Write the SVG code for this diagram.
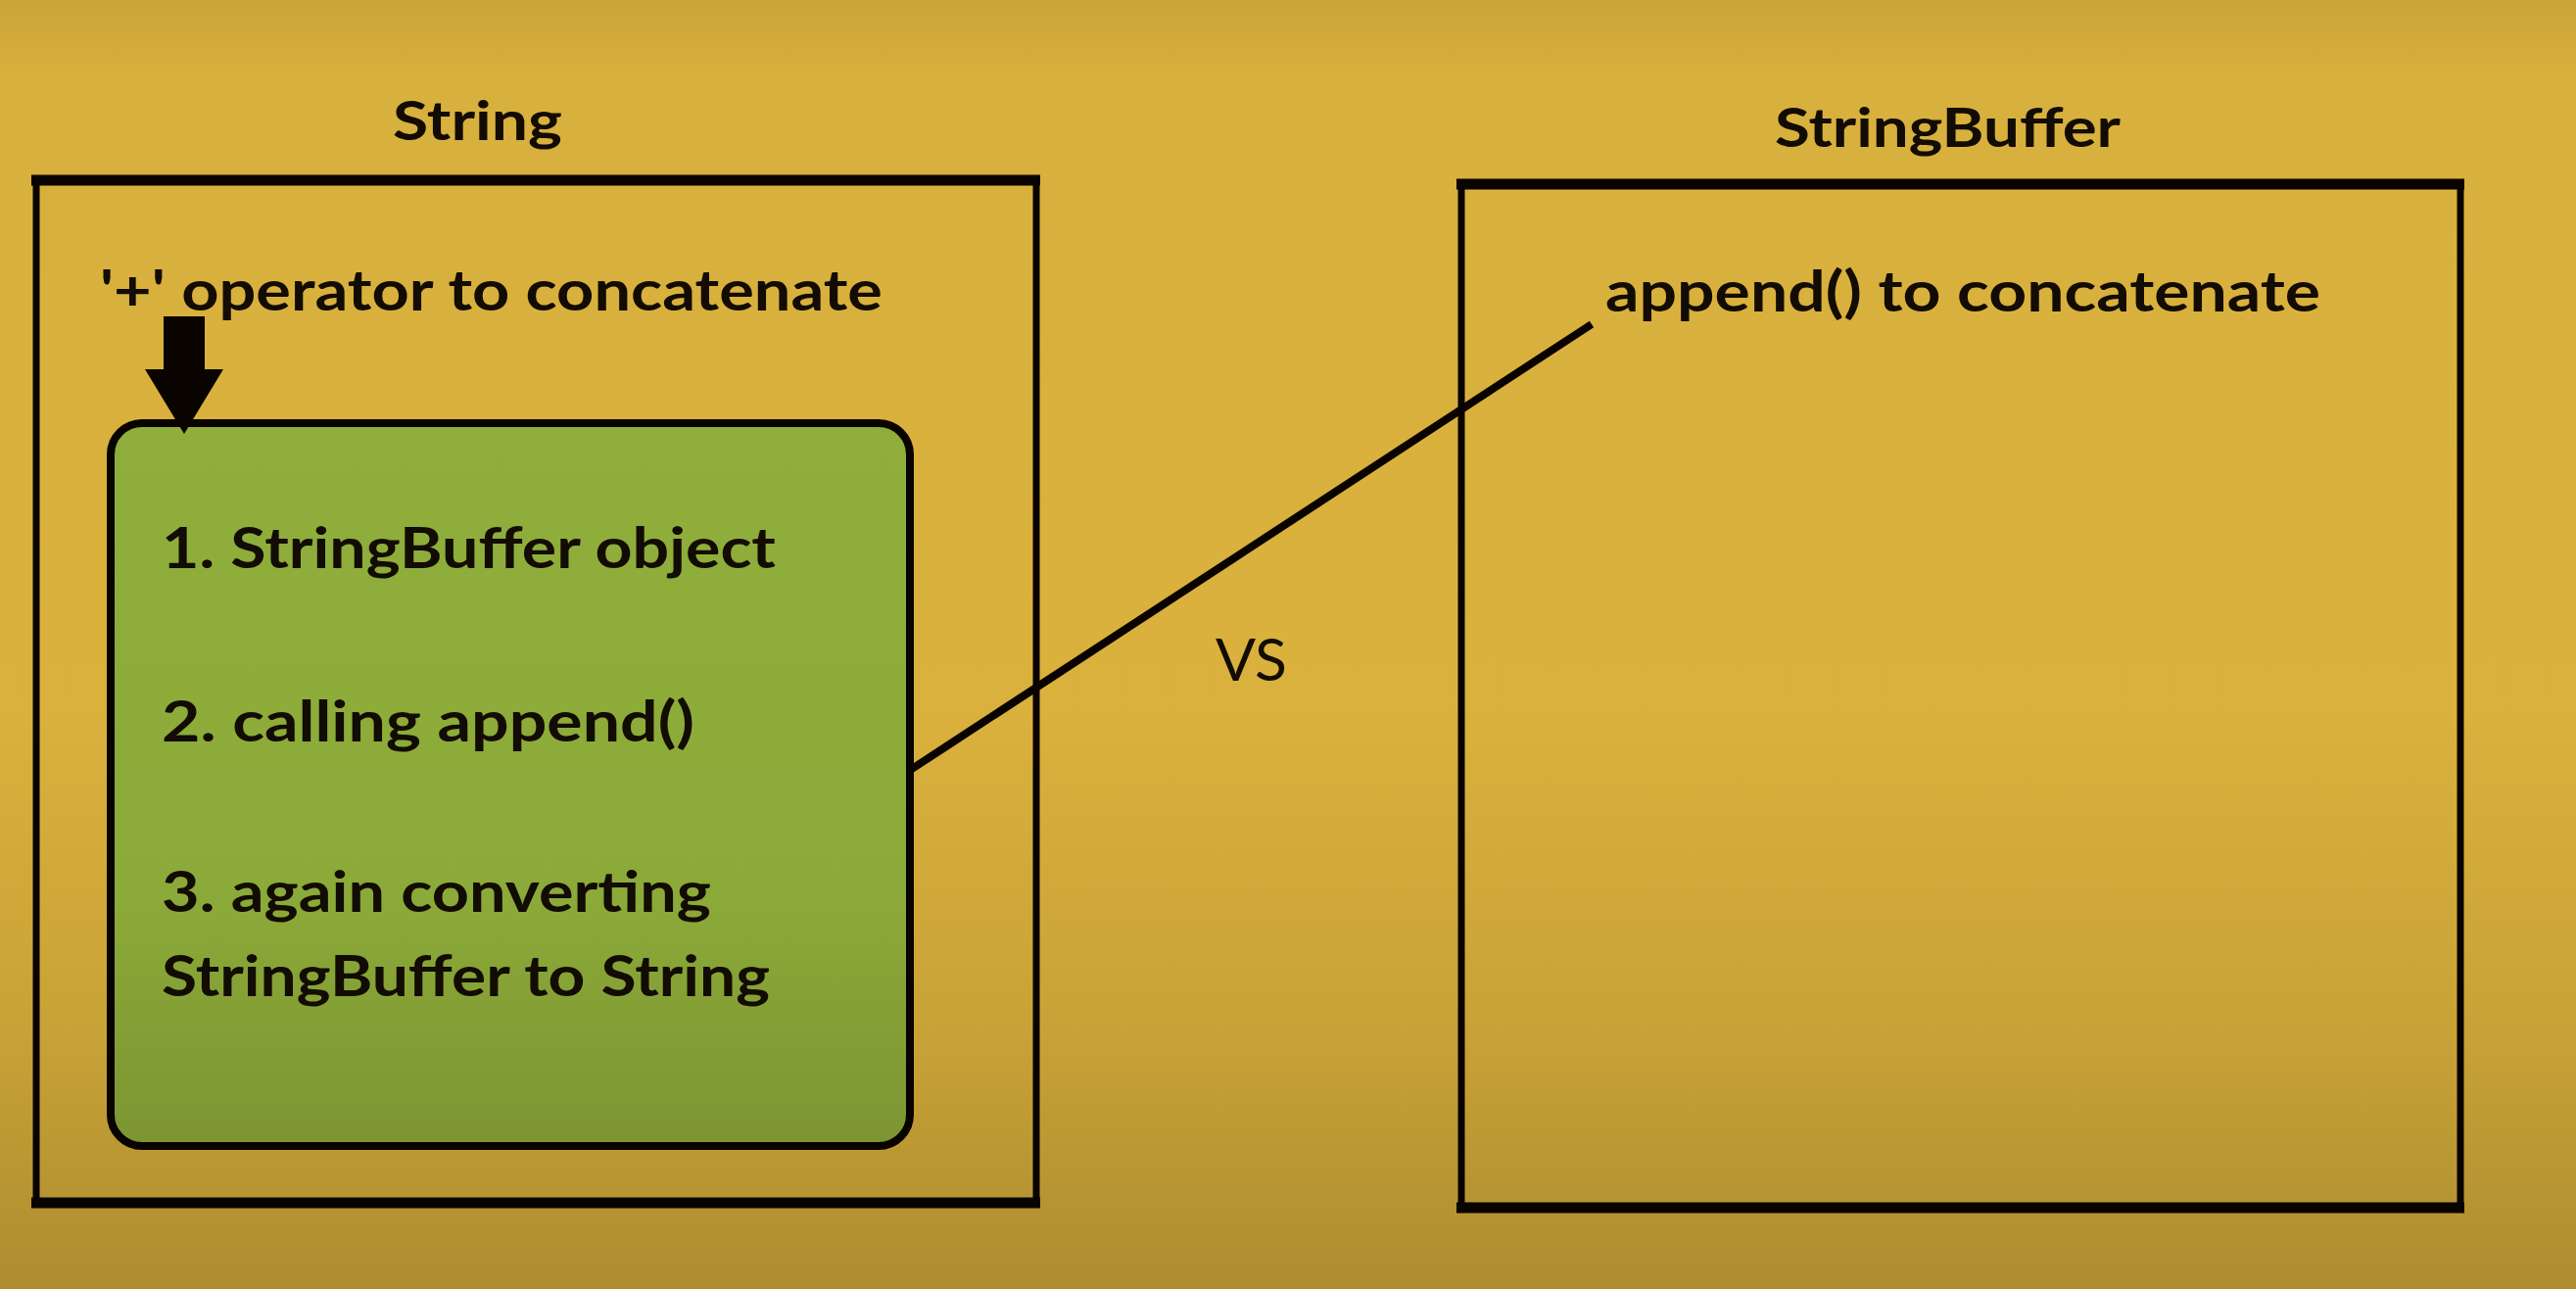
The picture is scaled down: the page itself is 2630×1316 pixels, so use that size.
<svg xmlns="http://www.w3.org/2000/svg" width="2630" height="1316" viewBox="0 0 2630 1316">
  <defs>
    <linearGradient id="bg" x1="0" y1="0" x2="0" y2="1">
      <stop offset="0" stop-color="#CBA439"/>
      <stop offset="0.06" stop-color="#D8B03D"/>
      <stop offset="0.55" stop-color="#DAB13D"/>
      <stop offset="0.8" stop-color="#C9A237"/>
      <stop offset="1" stop-color="#AD8D30"/>
    </linearGradient>
    <linearGradient id="green" x1="0" y1="0" x2="0" y2="1">
      <stop offset="0" stop-color="#8FAE3B"/>
      <stop offset="0.65" stop-color="#8CAA39"/>
      <stop offset="1" stop-color="#7C9532"/>
    </linearGradient>
  </defs>
  <style>
    .t { font-family: Lato, "Open Sans", "Liberation Sans", sans-serif; font-weight: bold; fill: #120c04; }
    .title { font-size: 55px; }
    .body { font-size: 58px; }
    .vs { font-family: Lato, "Open Sans", "Liberation Sans", sans-serif; font-weight: normal; font-size: 60px; fill: #120c04; }
    .box { fill: none; stroke: #0a0400; stroke-width: 7; }
    .edge { stroke: #0a0400; stroke-width: 11; }
    .conn { stroke: #0a0400; stroke-width: 8; fill: none; }
  </style>
  <rect x="0" y="0" width="2630" height="1316" fill="url(#bg)"/>

  <g id="string-panel">
    <text class="t title" x="401" y="143" textLength="173" lengthAdjust="spacingAndGlyphs">String</text>
    <rect class="box" x="37" y="184" width="1021" height="1044"/>
    <line class="edge" x1="32" y1="184" x2="1062" y2="184"/>
    <line class="edge" x1="32" y1="1228" x2="1062" y2="1228"/>
    <text class="t body" x="102" y="317" textLength="799" lengthAdjust="spacingAndGlyphs">'+' operator to concatenate</text>
  </g>

  <g id="steps-box">
    <rect x="113" y="432" width="816" height="738" rx="32" ry="32" fill="url(#green)" stroke="#0a0400" stroke-width="8"/>
    <text class="t body" x="165" y="580" textLength="627" lengthAdjust="spacingAndGlyphs">1. StringBuffer object</text>
    <text class="t body" x="165" y="757" textLength="544" lengthAdjust="spacingAndGlyphs">2. calling append()</text>
    <text class="t body" x="165" y="931" textLength="561" lengthAdjust="spacingAndGlyphs">3. again converting</text>
    <text class="t body" x="165" y="1017" textLength="621" lengthAdjust="spacingAndGlyphs">StringBuffer to String</text>
  </g>

  <g id="stringbuffer-panel">
    <text class="t title" x="1812" y="150" textLength="353" lengthAdjust="spacingAndGlyphs">StringBuffer</text>
    <rect class="box" x="1492" y="188" width="1020" height="1045"/>
    <line class="edge" x1="1487" y1="188" x2="2516" y2="188"/>
    <line class="edge" x1="1487" y1="1233" x2="2516" y2="1233"/>
    <text class="t body" x="1639" y="318" textLength="730" lengthAdjust="spacingAndGlyphs">append() to concatenate</text>
  </g>

  <g id="vs-label">
    <text class="vs" x="1241" y="695" textLength="73" lengthAdjust="spacingAndGlyphs">VS</text>
  </g>

  <g id="connectors">
    <polygon points="167,323 209,323 209,377 228,377 188,443 148,377 167,377" fill="#0a0400"/>
    <line class="conn" x1="931" y1="785" x2="1625" y2="331"/>
  </g>
</svg>
